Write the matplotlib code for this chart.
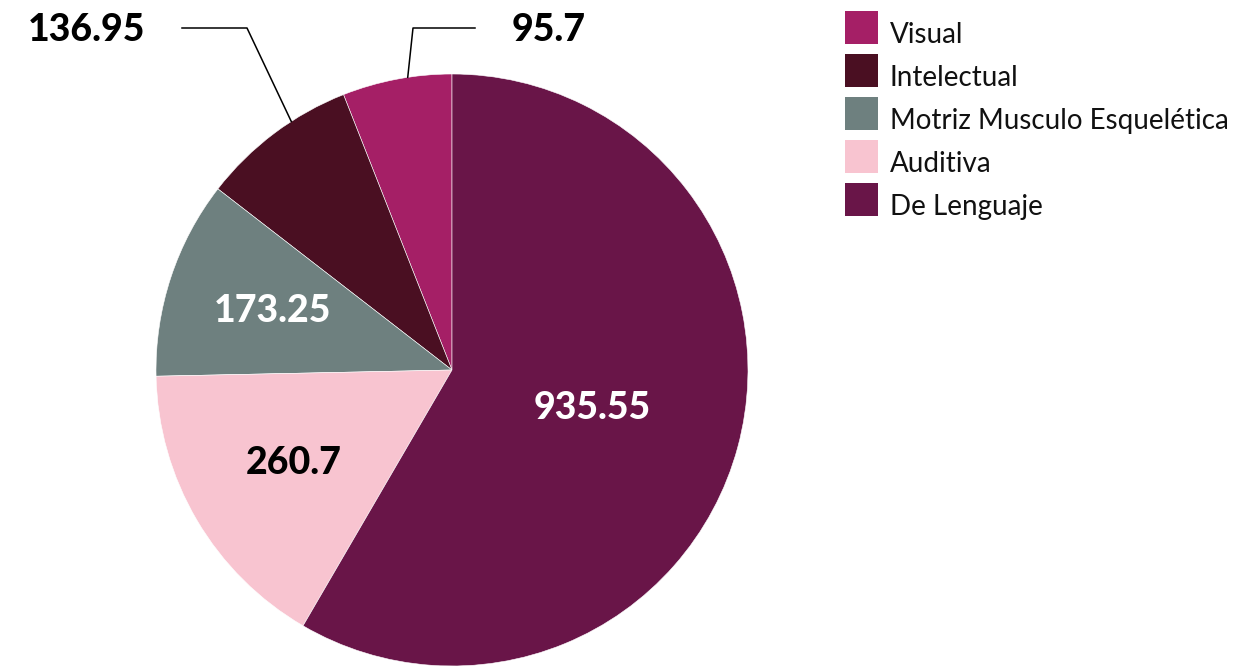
import matplotlib.pyplot as plt
import numpy as np
from matplotlib.patches import Rectangle

categories = ["Visual", "Intelectual", "Motriz Musculo Esquelética", "Auditiva", "De Lenguaje"]
values = [95.7, 136.95, 173.25, 260.7, 935.55]
value_labels = ["95.7", "136.95", "173.25", "260.7", "935.55"]
colors = ["#A51F66", "#4A0F22", "#6E807F", "#F8C4D0", "#691548"]

W, H = 1236, 666
fig = plt.figure(figsize=(W / 100, H / 100), dpi=100)
ax = fig.add_axes([0, 0, 1, 1])

# pie geometry in pixel units (y measured from bottom)
cx, cy, r = 452, H - 370, 296
wedges, _ = ax.pie(values, colors=colors, startangle=90, counterclock=True,
                   center=(cx, cy), radius=r,
                   wedgeprops=dict(edgecolor="white", linewidth=0.4))
ax.set_xlim(0, W)
ax.set_ylim(0, H)
ax.set_aspect("equal")
ax.axis("off")

label_font = dict(family=["Lato", "DejaVu Sans"], fontweight=900, fontsize=27)

# inside labels: (index, radial fraction, color)
inside = [(2, 0.64, "white"), (3, 0.62, "black"), (4, 0.49, "white")]
for i, frac, c in inside:
    w = wedges[i]
    ang = np.deg2rad((w.theta1 + w.theta2) / 2)
    ax.text(cx + frac * r * np.cos(ang), cy + frac * r * np.sin(ang), value_labels[i],
            ha="center", va="center", color=c, **label_font)

# outside labels with elbow leader lines: (index, anchor fraction in wedge, elbow x, line end x, text x, ha)
top_y = H - 28
outside = [(1, 0.37, 247, 182, 145, "right"), (0, 0.4, 413, 475, 512, "left")]
for i, f, ex, lx, tx, ha in outside:
    w = wedges[i]
    ang = np.deg2rad(w.theta1 + f * (w.theta2 - w.theta1))
    px, py = cx + r * np.cos(ang), cy + r * np.sin(ang)
    ax.plot([px, ex, lx], [py, top_y, top_y], color="black", lw=1.1)
    ax.text(tx, top_y - 2, value_labels[i], ha=ha, va="center", color="black", **label_font)

# legend
lx0, ly0, step, box = 845, H - 11, 43, 33
for k, (name, c) in enumerate(zip(categories, colors)):
    y = ly0 - k * step
    ax.add_patch(Rectangle((lx0, y - box), box, box, facecolor=c, edgecolor="none"))
    ax.text(lx0 + 45, y - box + 1, name, ha="left", va="baseline",
            family=["Lato", "DejaVu Sans"], fontsize=20, color="#111111")

fig.savefig("out.png", dpi=100)
